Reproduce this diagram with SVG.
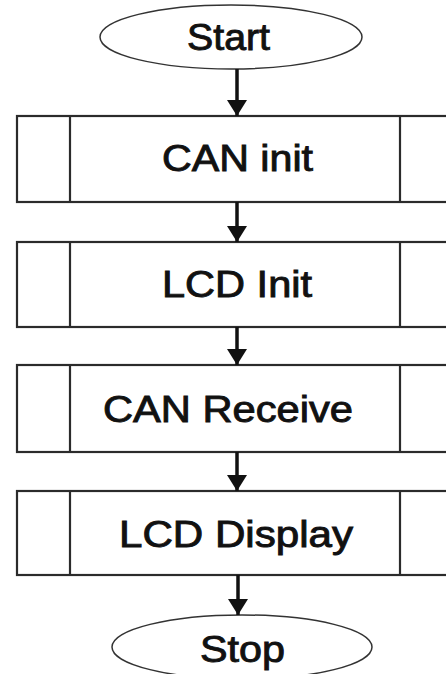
<svg xmlns="http://www.w3.org/2000/svg" width="446" height="674" viewBox="0 0 446 674">
  <style>
    .term { fill: #ffffff; stroke: #333333; stroke-width: 1.5; }
    .box { fill: #ffffff; stroke: #2b2b2b; stroke-width: 2.2; }
    .inner { stroke: #2b2b2b; stroke-width: 2.2; }
    .label { font-family: "Liberation Sans", Arial, sans-serif; font-size: 36px; fill: #111111; stroke: #111111; stroke-width: 0.9; }
    .conn { stroke: #111111; stroke-width: 3.5; fill: none; }
  </style>
  <defs>
    <marker id="arrow" markerUnits="userSpaceOnUse" markerWidth="16" markerHeight="20" refX="16" refY="10" orient="auto">
      <path d="M0,0 L16,10 L0,20 Z" fill="#111111"/>
    </marker>
  </defs>
  <rect width="446" height="674" fill="#ffffff"/>

  <g id="start">
    <ellipse class="term" cx="231" cy="37" rx="131" ry="32"/>
    <text class="label" x="187" y="50" textLength="83" lengthAdjust="spacingAndGlyphs">Start</text>
  </g>

  <g id="can-init">
    <rect class="box" x="17" y="116" width="450" height="86"/>
    <line class="inner" x1="70" y1="116" x2="70" y2="202"/>
    <line class="inner" x1="400" y1="116" x2="400" y2="202"/>
    <text class="label" x="162" y="171" textLength="151" lengthAdjust="spacingAndGlyphs">CAN init</text>
  </g>

  <g id="lcd-init">
    <rect class="box" x="17" y="242" width="450" height="85"/>
    <line class="inner" x1="70" y1="242" x2="70" y2="327"/>
    <line class="inner" x1="400" y1="242" x2="400" y2="327"/>
    <text class="label" x="162" y="297" textLength="150" lengthAdjust="spacingAndGlyphs">LCD Init</text>
  </g>

  <g id="can-receive">
    <rect class="box" x="17" y="365" width="450" height="87"/>
    <line class="inner" x1="70" y1="365" x2="70" y2="452"/>
    <line class="inner" x1="400" y1="365" x2="400" y2="452"/>
    <text class="label" x="103" y="422" textLength="250" lengthAdjust="spacingAndGlyphs">CAN Receive</text>
  </g>

  <g id="lcd-display">
    <rect class="box" x="17" y="491" width="450" height="84"/>
    <line class="inner" x1="70" y1="491" x2="70" y2="575"/>
    <line class="inner" x1="400" y1="491" x2="400" y2="575"/>
    <text class="label" x="119" y="547" textLength="234" lengthAdjust="spacingAndGlyphs">LCD Display</text>
  </g>

  <g id="stop">
    <ellipse class="term" cx="242" cy="647" rx="130" ry="32"/>
    <text class="label" x="200" y="662" textLength="85" lengthAdjust="spacingAndGlyphs">Stop</text>
  </g>

  <g id="connectors">
    <line class="conn" x1="237" y1="69" x2="237" y2="116" marker-end="url(#arrow)"/>
    <line class="conn" x1="237" y1="202" x2="237" y2="242" marker-end="url(#arrow)"/>
    <line class="conn" x1="237" y1="327" x2="237" y2="365" marker-end="url(#arrow)"/>
    <line class="conn" x1="237" y1="452" x2="237" y2="491" marker-end="url(#arrow)"/>
    <line class="conn" x1="238" y1="575" x2="238" y2="615" marker-end="url(#arrow)"/>
  </g>
</svg>
